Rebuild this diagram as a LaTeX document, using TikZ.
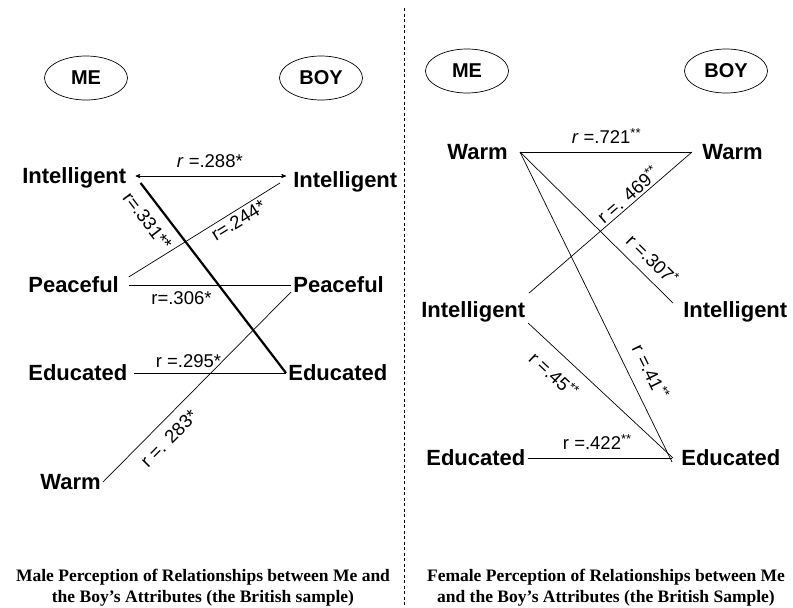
\documentclass[tikz,border=0pt]{standalone}
\usepackage{fontspec}
\setmainfont{Liberation Serif}
\newfontfamily\arialfont{Liberation Sans}
\usetikzlibrary{arrows}
\usetikzlibrary{shapes.geometric}

\newcommand{\attrfont}{\arialfont\bfseries\fontsize{22}{25}\selectfont}
\newcommand{\corrfont}{\arialfont\fontsize{18.5}{21}\selectfont}
\newcommand{\capfont}{\bfseries\fontsize{17.5}{21}\selectfont}

\begin{document}
\begin{tikzpicture}[>=stealth',x=1pt,y=-1pt,line width=0.7pt,
      self node/.style={ellipse,draw,inner sep=0pt,minimum width=83pt,minimum height=44pt,
        font=\arialfont\bfseries\fontsize{20}{23}\selectfont},
      attr node/.style={font=\attrfont,inner sep=2pt,text height=15.75pt,text depth=0pt,anchor=west},
      corr/.style={font=\corrfont,inner sep=1pt,sloped},
      caption node/.style={font=\capfont,align=center}]
  \useasboundingbox (0,0) rectangle (793,608);
  % divider between the two samples
  \draw[line width=0.5pt,dash pattern=on 3pt off 2.5pt] (404,8) -- (404,608);

  % male sample
  \node[self node] (meM)  at (86,78)  {ME};
  \node[self node] (boyM) at (321,78) {BOY};
  \node[attr node] (intMe)  at (20,176)  {Intelligent};
  \node[attr node] (intBoy) at (291,180) {Intelligent};
  \node[attr node] (peaMe)  at (26,285)  {Peaceful};
  \node[attr node] (peaBoy) at (291,285) {Peaceful};
  \node[attr node] (eduMe)  at (26,373)  {Educated};
  \node[attr node] (eduBoy) at (286,373) {Educated};
  \node[attr node] (warmMe) at (38,482)  {Warm};
  \path
    (intMe.east) edge [<->,shorten <=7pt,shorten >=5pt]
        node [corr,above=7pt] {\textit{r} =.288*} (intMe.east -| intBoy.west)
    ([xshift=12pt,yshift=-7pt]intMe.east) edge [line width=2.2pt]
        node [corr,pos=.144,below=9pt] {r=.331**} (eduBoy.west)
    ([xshift=7.5pt,yshift=8pt]peaMe.east) edge
        node [corr,pos=.69,below=2pt] {r=.244*} ([xshift=-11pt,yshift=-3pt]intBoy.west)
    ([xshift=7.5pt]peaMe.east) edge
        node [corr,pos=.325,below=5pt] {r=.306*} (peaBoy.west)
    ([xshift=4pt]eduMe.east) edge
        node [corr,pos=.36,above=4pt] {r =.295*} (eduBoy.west)
    (warmMe.east) edge
        node [corr,pos=.289,below=8.5pt] {r =. 283*} ([yshift=-7pt]peaBoy.west);

  % female sample
  \node[self node] (meF)  at (467,71) {ME};
  \node[self node] (boyF) at (726,71) {BOY};
  \node[attr node] (warmMeF)  at (445,152) {Warm};
  \node[attr node] (warmBoyF) at (700,152) {Warm};
  \node[attr node] (intMeF)   at (419,310) {Intelligent};
  \node[attr node] (intBoyF)  at (681,310) {Intelligent};
  \node[attr node] (eduMeF)   at (424,458) {Educated};
  \node[attr node] (eduBoyF)  at (679,458) {Educated};
  \path
    ([xshift=10pt]warmMeF.east) edge [shorten >=8pt]
        node [corr,pos=.48,above=7pt] {\textit{r} =.721\textsuperscript{**}} (warmBoyF.west)
      edge node [corr,pos=.79,above=8pt] {r =.307\textsuperscript{*}} ([xshift=-8pt,yshift=7pt]intBoyF.west)
      edge node [corr,pos=.739,above=12pt] {r =.41\textsuperscript{**}} ([xshift=-7pt,yshift=-4pt]eduBoyF.west)
    ([xshift=1.5pt,yshift=17pt]intMeF.east) edge
        node [corr,pos=.646,above=1pt] {r =. 469\textsuperscript{**}} ([xshift=-8pt]warmBoyF.west)
    ([xshift=0.5pt,yshift=-13pt]intMeF.east) edge
        node [corr,pos=.274,below=11pt] {r =.45\textsuperscript{**}} ([xshift=-6pt]eduBoyF.west)
    (eduMeF.east) edge [shorten >=7pt]
        node [corr,pos=.46,above=7pt] {r =.422\textsuperscript{**}} (eduBoyF.west);

  \node[caption node] (capM) at (203,587.5)
    {Male Perception of Relationships between Me and\\the Boy’s Attributes (the British sample)};
  \node[caption node] (capF) at (606,587.5)
    {Female Perception of Relationships between Me\\and the Boy’s Attributes (the British Sample)};
\end{tikzpicture}
\end{document}
